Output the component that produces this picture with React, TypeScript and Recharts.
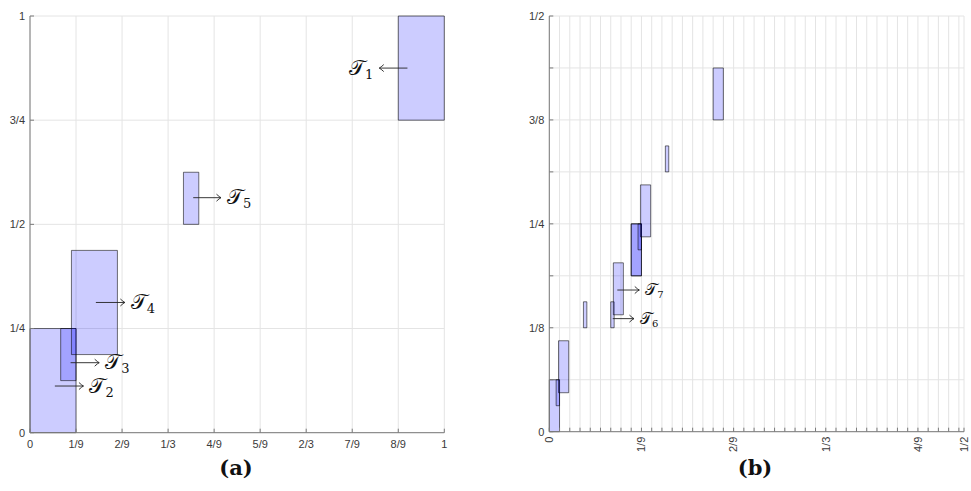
import React from "react";
import { ComposedChart, XAxis, YAxis, CartesianGrid, ReferenceArea, ReferenceLine } from "recharts";

// ---- panel (a) ----
const aXTicks = [0, 1 / 9, 2 / 9, 1 / 3, 4 / 9, 5 / 9, 2 / 3, 7 / 9, 8 / 9, 1];
const aXLabels = ["0", "1/9", "2/9", "1/3", "4/9", "5/9", "2/3", "7/9", "8/9", "1"];
const aYTicks = [0, 1 / 4, 1 / 2, 3 / 4, 1];
const aYLabels = ["0", "1/4", "1/2", "3/4", "1"];

const aRects = [
  { x1: 8 / 9, x2: 1, y1: 3 / 4, y2: 1 },
  { x1: 0, x2: 1 / 9, y1: 0, y2: 1 / 4 },
  { x1: 2 / 27, x2: 3 / 27, y1: 1 / 8, y2: 1 / 4 },
  { x1: 0.1, x2: 0.211, y1: 3 / 16, y2: 7 / 16 },
  { x1: 10 / 27, x2: 11 / 27, y1: 1 / 2, y2: 5 / 8 },
];

const aArrows = [
  { sub: "1", y: 7 / 8, from: 0.911, to: 0.843 },
  { sub: "2", y: 0.112, from: 0.06, to: 0.129 },
  { sub: "3", y: 0.168, from: 0.098, to: 0.167 },
  { sub: "4", y: 0.3125, from: 0.159, to: 0.229 },
  { sub: "5", y: 0.564, from: 0.394, to: 0.461 },
];

// ---- panel (b) ----
// minor grid every 1/81 on x, 1/16 on y
const bXTicks = [...Array.from({ length: 41 }, (_, k) => k / 81), 1 / 2];
const bXLabelAt = [0, 1 / 9, 2 / 9, 1 / 3, 4 / 9, 1 / 2];
const bXLabels = ["0", "1/9", "2/9", "1/3", "4/9", "1/2"];
const bYTicks = [0, 1 / 16, 1 / 8, 3 / 16, 1 / 4, 5 / 16, 3 / 8, 7 / 16, 1 / 2];
const bYLabels = ["0", "", "1/8", "", "1/4", "", "3/8", "", "1/2"];

const bRects = [
  { x1: 8 / 81, x2: 9 / 81, y1: 3 / 16, y2: 1 / 4 },
  { x1: 0, x2: 1 / 81, y1: 0, y2: 1 / 16 },
  { x1: 2 / 243, x2: 3 / 243, y1: 1 / 32, y2: 1 / 16 },
  { x1: 0.0111, x2: 0.0234, y1: 3 / 64, y2: 7 / 64 },
  { x1: 10 / 243, x2: 11 / 243, y1: 1 / 8, y2: 5 / 32 },
  { x1: 16 / 81, x2: 17 / 81, y1: 3 / 8, y2: 7 / 16 },
  { x1: 8 / 81, x2: 9 / 81, y1: 3 / 16, y2: 1 / 4 },
  { x1: 26 / 243, x2: 27 / 243, y1: 7 / 32, y2: 1 / 4 },
  { x1: 0.1099, x2: 0.1222, y1: 15 / 64, y2: 19 / 64 },
  { x1: 34 / 243, x2: 35 / 243, y1: 5 / 16, y2: 11 / 32 },
  { x1: 18 / 243, x2: 19 / 243, y1: 1 / 8, y2: 5 / 32 },
  { x1: 0.0772, x2: 0.0893, y1: 9 / 64, y2: 13 / 64 },
];

const bArrows = [
  { sub: "6", y: 0.136, from: 0.0765, to: 0.1021 },
  { sub: "7", y: 0.1704, from: 0.082, to: 0.1085 },
];

const AXIS = "#7a7a7a";
const GRID = "#e4e4e4";
const TICKFONT = "Liberation Sans, Arial, sans-serif";
const MATHFONT = "DejaVu Serif, serif";

const near = (list: number[], v: number) => list.findIndex((t) => Math.abs(t - v) < 1e-9);

function makeArrow(sub: string, size: number, subSize: number) {
  return (p: any) => {
    const { x1, y1, x2 } = p;
    const dir = x2 > x1 ? 1 : -1;
    return (
      <g>
        <line x1={x1} y1={y1} x2={x2} y2={y1} stroke="#222" strokeWidth={0.9} />
        <path
          d={`M${x2 - dir * 4.5},${y1 - 3.5} Q${x2 - dir * 1.5},${y1 - 0.7} ${x2},${y1} Q${x2 - dir * 1.5},${y1 + 0.7} ${x2 - dir * 4.5},${y1 + 3.5}`}
          fill="none"
          stroke="#222"
          strokeWidth={0.9}
        />
        <text
          x={x2 + dir * 6}
          y={y1 + size * 0.32}
          textAnchor={dir > 0 ? "start" : "end"}
          fontFamily={MATHFONT}
          fill="#111"
        >
          <tspan fontSize={size}>𝒯</tspan>
          <tspan fontSize={subSize} dy={size * 0.18}>{sub}</tspan>
        </text>
      </g>
    );
  };
}

type PanelProps = {
  left: number;
  width: number;
  margin: { top: number; right: number; bottom: number; left: number };
  yAxisWidth: number;
  xDomain: number[];
  yDomain: number[];
  xTicks: number[];
  yTicks: number[];
  xLabel: (v: number) => string;
  yLabel: (v: number) => string;
  rotateX: boolean;
  rects: { x1: number; x2: number; y1: number; y2: number }[];
  arrows: { sub: string; y: number; from: number; to: number }[];
  mathSize: number;
  subSize: number;
};

function Panel(props: PanelProps) {
  const { margin } = props;
  const bottomTick = (p: any) => {
    const label = props.xLabel(p.payload.value);
    return (
      <g>
        <line x1={p.x} y1={p.y} x2={p.x} y2={p.y - 4} stroke={AXIS} />
        {props.rotateX ? (
          <text
            x={p.x}
            y={p.y + 5}
            dy="0.35em"
            textAnchor="end"
            transform={`rotate(-90, ${p.x}, ${p.y + 5})`}
            fontFamily={TICKFONT}
            fontSize={11}
            fill="#3a3a3a"
          >
            {label}
          </text>
        ) : (
          <text x={p.x} y={p.y + 15} textAnchor="middle" fontFamily={TICKFONT} fontSize={11} fill="#3a3a3a">
            {label}
          </text>
        )}
      </g>
    );
  };
  const topTick = (p: any) => <line x1={p.x} y1={p.y} x2={p.x} y2={p.y + 4} stroke={AXIS} />;
  const leftTick = (p: any) => (
    <g>
      <line x1={p.x} y1={p.y} x2={p.x + 4} y2={p.y} stroke={AXIS} />
      <text x={p.x - 5} y={p.y} dy="0.35em" textAnchor="end" fontFamily={TICKFONT} fontSize={11} fill="#3a3a3a">
        {props.yLabel(p.payload.value)}
      </text>
    </g>
  );
  const rightTick = (p: any) => <line x1={p.x} y1={p.y} x2={p.x - 4} y2={p.y} stroke={AXIS} />;

  return (
    <div style={{ position: "absolute", left: props.left, top: 0 }}>
      <ComposedChart width={props.width} height={491} data={[]} margin={margin}>
        <CartesianGrid stroke={GRID} />
        <XAxis
          type="number"
          dataKey="x"
          domain={props.xDomain}
          ticks={props.xTicks}
          interval={0}
          allowDataOverflow
          height={20}
          tickSize={0}
          tickMargin={0}
          tickLine={false}
          axisLine={{ stroke: AXIS }}
          tick={bottomTick}
        />
        <XAxis
          xAxisId="top"
          orientation="top"
          type="number"
          domain={props.xDomain}
          ticks={props.xTicks}
          interval={0}
          allowDataOverflow
          height={0}
          tickSize={0}
          tickMargin={0}
          tickLine={false}
          axisLine={{ stroke: AXIS }}
          tick={topTick}
        />
        <YAxis
          type="number"
          dataKey="y"
          domain={props.yDomain}
          ticks={props.yTicks}
          interval={0}
          allowDataOverflow
          width={props.yAxisWidth}
          tickSize={0}
          tickMargin={0}
          tickLine={false}
          axisLine={{ stroke: AXIS }}
          tick={leftTick}
        />
        <YAxis
          yAxisId="right"
          orientation="right"
          type="number"
          domain={props.yDomain}
          ticks={props.yTicks}
          interval={0}
          allowDataOverflow
          width={0}
          tickSize={0}
          tickMargin={0}
          tickLine={false}
          axisLine={{ stroke: AXIS }}
          tick={rightTick}
        />
        {props.rects.map((r, i) => (
          <ReferenceArea
            key={"r" + i}
            x1={r.x1}
            x2={r.x2}
            y1={r.y1}
            y2={r.y2}
            fill="#0000ff"
            fillOpacity={0.2}
            stroke="#000"
            strokeOpacity={0.55}
            strokeWidth={1}
            ifOverflow="visible"
          />
        ))}
        {props.arrows.map((a, i) => (
          <ReferenceLine
            key={"a" + i}
            segment={[
              { x: a.from, y: a.y },
              { x: a.to, y: a.y },
            ]}
            ifOverflow="visible"
            shape={makeArrow(a.sub, props.mathSize, props.subSize)}
          />
        ))}
      </ComposedChart>
    </div>
  );
}

const caption: React.CSSProperties = {
  position: "absolute",
  top: 455,
  width: 80,
  textAlign: "center",
  fontFamily: "DejaVu Serif, serif",
  fontWeight: "bold",
  fontSize: 21,
  color: "#111",
};

export default function App() {
  return (
    <div style={{ position: "absolute", left: 0, top: 0, width: 971, height: 491, background: "#fff" }}>
      <Panel
        left={0}
        width={460}
        margin={{ top: 16, right: 15.7, bottom: 38.3, left: 0 }}
        yAxisWidth={30}
        xDomain={[0, 1]}
        yDomain={[0, 1]}
        xTicks={aXTicks}
        yTicks={aYTicks}
        xLabel={(v) => aXLabels[near(aXTicks, v)] ?? ""}
        yLabel={(v) => aYLabels[near(aYTicks, v)] ?? ""}
        rotateX={false}
        rects={aRects}
        arrows={aArrows}
        mathSize={21}
        subSize={13}
      />
      <Panel
        left={510}
        width={461}
        margin={{ top: 16, right: 7, bottom: 39.3, left: 0 }}
        yAxisWidth={39.3}
        xDomain={[0, 1 / 2]}
        yDomain={[0, 1 / 2]}
        xTicks={bXTicks}
        yTicks={bYTicks}
        xLabel={(v) => bXLabels[near(bXLabelAt, v)] ?? ""}
        yLabel={(v) => bYLabels[near(bYTicks, v)] ?? ""}
        rotateX={true}
        rects={bRects}
        arrows={bArrows}
        mathSize={16}
        subSize={10}
      />
      <div style={{ ...caption, left: 196 }}>(a)</div>
      <div style={{ ...caption, left: 715 }}>(b)</div>
    </div>
  );
}
